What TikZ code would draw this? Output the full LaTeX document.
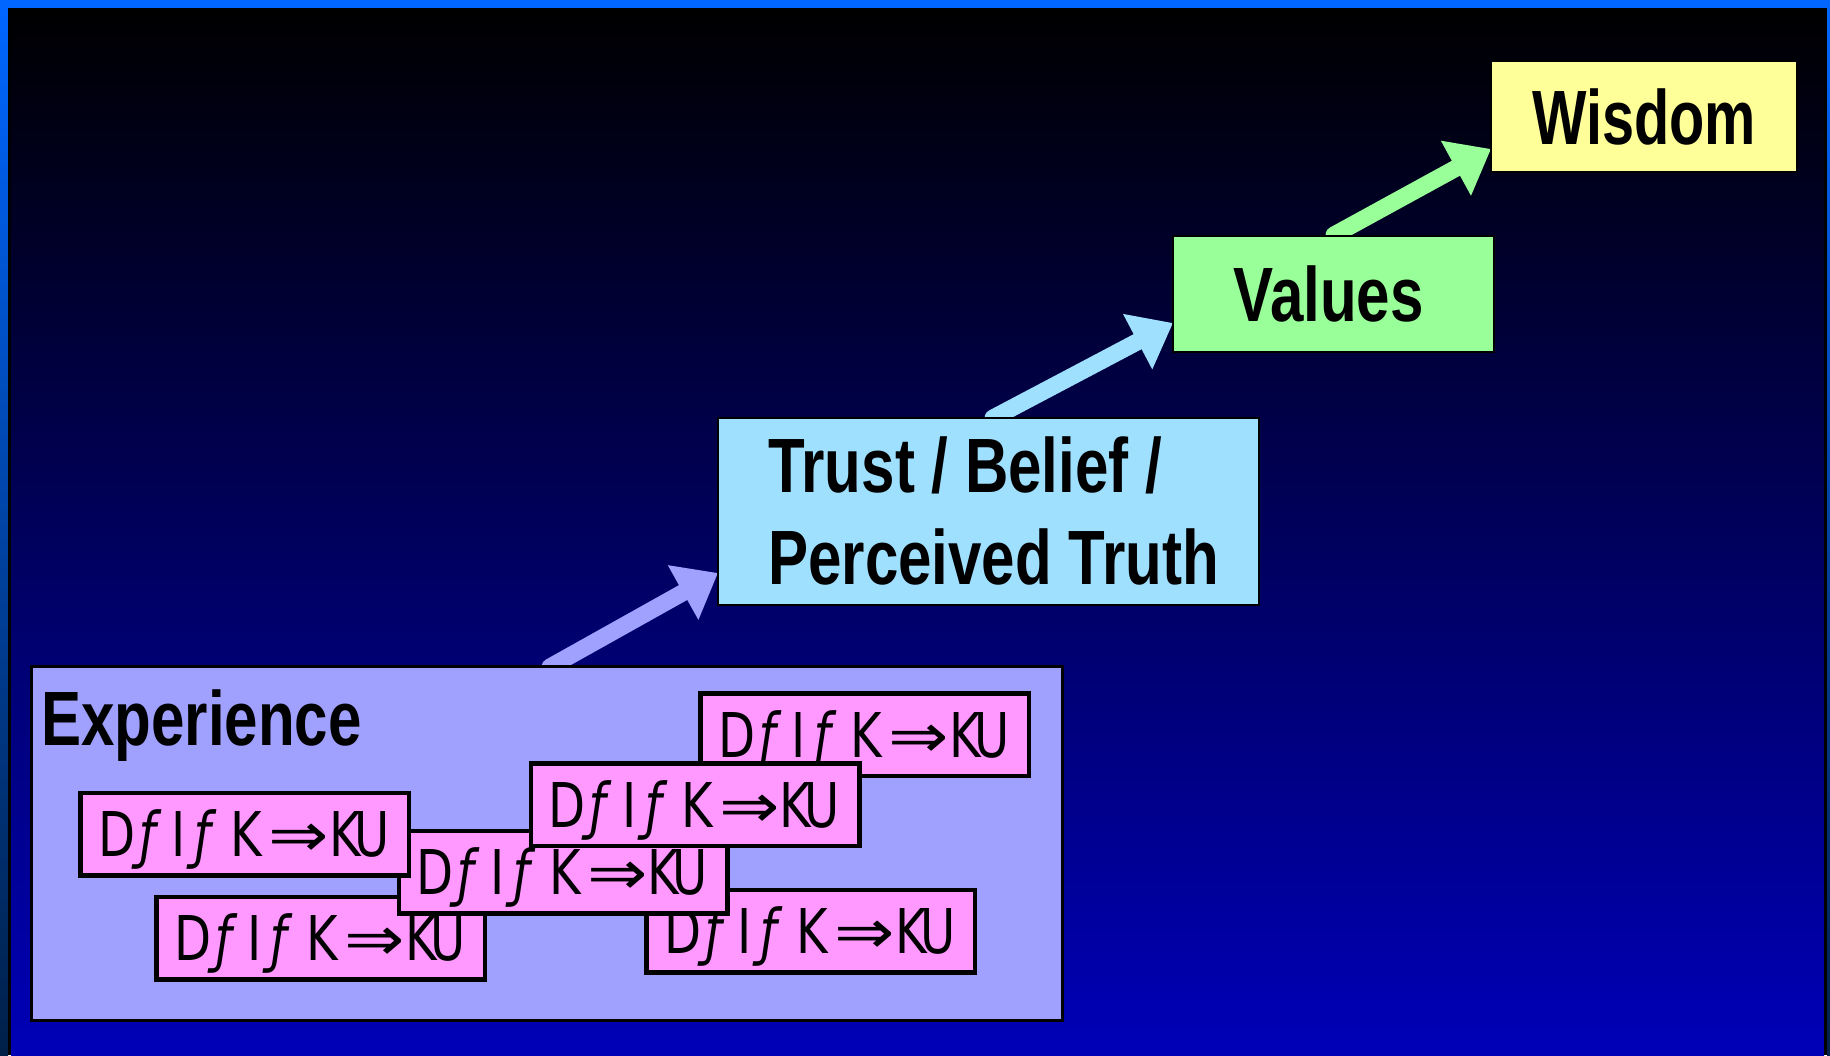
\documentclass[tikz,border=0pt]{standalone}
\usepackage{fontspec}
\usetikzlibrary{arrows.meta}
\newfontfamily\labelfont[FakeStretch=0.78]{Liberation Sans}
\newfontfamily\chainfont[FakeStretch=0.78]{DejaVu Sans}
\definecolor{frameblue}{HTML}{0066FF}
\definecolor{framedark}{HTML}{002048}
\definecolor{skybottom}{RGB}{0,0,184}
\definecolor{wisdomfill}{HTML}{FFFF99}
\definecolor{valuesfill}{HTML}{99FF99}
\definecolor{trustfill}{HTML}{A0E0FF}
\definecolor{expfill}{HTML}{A0A0FF}
\definecolor{chainpink}{HTML}{FF99FF}
\tikzset{
  stage/.style={draw=black, line width=2pt, inner sep=0pt,
    font=\labelfont\bfseries\fontsize{77}{90}\selectfont,
    text height=55pt, text depth=0pt},
  stagelabel/.style={inner sep=0pt, anchor=base west,
    font=\labelfont\bfseries\fontsize{77}{90}\selectfont},
  chainbox/.style={draw=black, line width=4.5pt, fill=chainpink,
    minimum width=328.5pt, minimum height=82.5pt, inner sep=0pt,
    font=\chainfont\fontsize{61.7}{70}\selectfont,
    text height=45pt, text depth=0pt},
  flow/.style={line width=17pt, line cap=round,
    -{Triangle[length=40pt,width=60pt]}},
}
% a glyph centred at a given offset from the start of the label
\newcommand\glyphat[2]{\makebox[0pt][l]{\hspace*{#1pt}\makebox[0pt]{#2}}}
% one chain label
\newcommand\chain{\makebox[282pt][l]{%
  \glyphat{13.5}{D}\glyphat{44}{\itshape ƒ}\glyphat{75.5}{I}\glyphat{99.5}{\itshape ƒ}%
  \glyphat{143}{K}\glyphat{195.5}{\scalebox{1.5}[1]{⇒}}%
  \glyphat{241.5}{K}\glyphat{268.5}{U}}}
\begin{document}
\begin{tikzpicture}[x=1pt,y=-1pt]
  \useasboundingbox (0,0) rectangle (1830,1055);
  % backdrop and frame
  \shade[top color=black, bottom color=skybottom] (11,8) rectangle (1824,1055);
  \fill[frameblue] (0,0) rectangle (1830,8);
  \shade[top color=frameblue, bottom color=framedark] (0,8) rectangle (8,1055);
  \fill[black] (8,8) rectangle (11,1055);
  \fill[black] (1824,8) rectangle (1827,1055);
  \shade[top color=frameblue, bottom color=framedark] (1827,8) rectangle (1830,1055);

  % arrows between the stages (boxes drawn afterwards hide the tails)
  \coordinate (exptail) at (550,667);
  \coordinate (trusttip) at (718,573);
  \coordinate (trusttail) at (993,418);
  \coordinate (valuestip) at (1173,323);
  \coordinate (valuestail) at (1334,235);
  \coordinate (wisdomtip) at (1491,149);
  \draw[flow, draw=expfill, fill=expfill] (exptail) -- (trusttip);
  \draw[flow, draw=trustfill, fill=trustfill] (trusttail) -- (valuestip);
  \draw[flow, draw=valuesfill, fill=valuesfill] (valuestail) -- (wisdomtip);

  % stages
  \node[stage, fill=wisdomfill, minimum width=306pt, minimum height=111pt]
    (wisdom) at (1644,116.5) {\scalebox{0.96}[1]{Wisdom}};
  \node[stage, fill=valuesfill, minimum width=321pt, minimum height=116pt]
    (values) at (1333.5,294) {\hspace*{-10pt}Values};
  \node[stage, fill=trustfill, minimum width=541pt, minimum height=187pt]
    (trust) at (988.5,511.5) {};
  \node[stagelabel] (trust1) at (768,492) {Trust / Belief /};
  \node[stagelabel] (trust2) at (768,584) {Perceived Truth};

  \node[draw=black, line width=3pt, fill=expfill, inner sep=0pt,
    minimum width=1031pt, minimum height=354pt] (exp) at (547,843.5) {};
  \node[stagelabel] (explabel) at (41,745) {Experience};

  % data -> information -> knowledge chains
  \node[chainbox] (c1) at (864.5,734.5) {\chain};
  \node[chainbox] (c6) at (810.5,931) {\chain};
  \node[chainbox] (c5) at (320.5,938) {\chain};
  \node[chainbox] (c4) at (563,872) {\chain};
  \node[chainbox] (c2) at (695,804.5) {\chain};
  \node[chainbox] (c3) at (244.5,834) {\chain};
\end{tikzpicture}
\end{document}
